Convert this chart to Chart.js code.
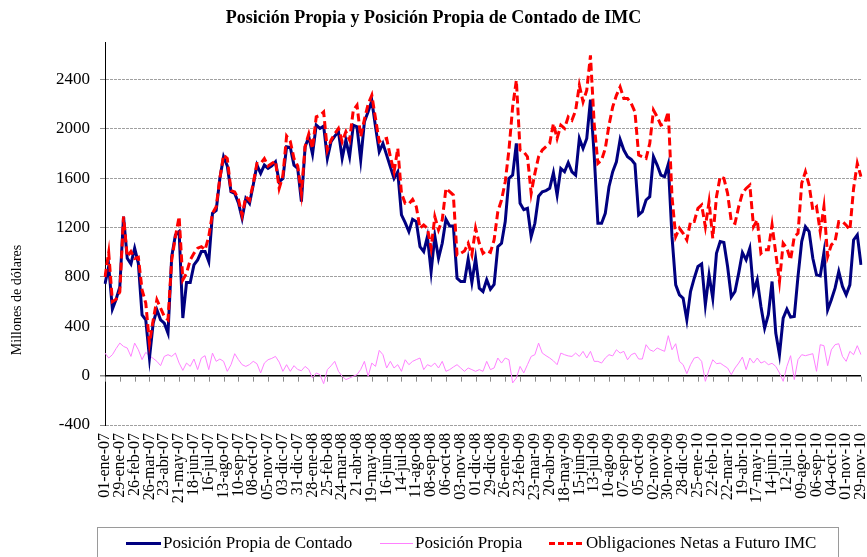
<!DOCTYPE html>
<html>
<head>
<meta charset="utf-8">
<title>Posición Propia IMC</title>
<script src="https://cdn.jsdelivr.net/npm/chart.js@4.4.0/dist/chart.umd.min.js"></script>
<style>
  html, body { margin: 0; padding: 0; background: #fff; }
  #wrap { width: 867px; height: 557px; position: relative; }
</style>
</head>
<body>
<div id="wrap"><canvas id="posChart"></canvas></div>
<script>
// Etiquetas del eje X (una cada 4 semanas)
const tickLabels = [
    '01-ene-07', '29-ene-07', '26-feb-07', '26-mar-07', '23-abr-07', '21-may-07', '18-jun-07', '16-jul-07', '13-ago-07', '10-sep-07',
    '08-oct-07', '05-nov-07', '03-dic-07', '31-dic-07', '28-ene-08', '25-feb-08', '24-mar-08', '21-abr-08', '19-may-08', '16-jun-08',
    '14-jul-08', '11-ago-08', '08-sep-08', '06-oct-08', '03-nov-08', '01-dic-08', '29-dic-08', '26-ene-09', '23-feb-09', '23-mar-09',
    '20-abr-09', '18-may-09', '15-jun-09', '13-jul-09', '10-ago-09', '07-sep-09', '05-oct-09', '02-nov-09', '30-nov-09', '28-dic-09',
    '25-ene-10', '22-feb-10', '22-mar-10', '19-abr-10', '17-may-10', '14-jun-10', '12-jul-10', '09-ago-10', '06-sep-10', '04-oct-10',
    '01-nov-10', '29-nov-10'
];

// Marcas del eje Y
const yTicks = [-400, 0, 400, 800, 1200, 1600, 2000, 2400];

// Posición Propia de Contado (millones de dólares, semanal)
const contado = [
    744, 885, 540, 620, 720, 1290, 952, 906, 1033, 911,
    493, 453, 143, 426, 534, 453, 426, 345, 965, 1140,
    1168, 467, 755, 755, 898, 938, 1006, 1006, 925, 1316,
    1340, 1600, 1775, 1700, 1491, 1478, 1400, 1276, 1437, 1397,
    1545, 1707, 1640, 1707, 1680, 1700, 1734, 1572, 1599, 1855,
    1850, 1707, 1680, 1411, 1855, 1936, 1796, 2031, 2004, 2023,
    1761, 1896, 1942, 1977, 1761, 1910, 1775, 2031, 2017, 1748,
    2058, 2139, 2228, 2017, 1815, 1883, 1788, 1694, 1599, 1653,
    1303, 1240, 1168, 1268, 1249, 1046, 1006, 1127, 844, 1133,
    952, 1073, 1268, 1214, 1214, 790, 763, 763, 944, 755,
    952, 709, 682, 777, 700, 740, 1046, 1073, 1249, 1599,
    1626, 1883, 1397, 1345, 1357, 1127, 1235, 1455, 1491, 1500,
    1518, 1645, 1464, 1680, 1653, 1726, 1653, 1626, 1923, 1842,
    1923, 2238, 1788, 1235, 1235, 1316, 1532, 1653, 1734, 1915,
    1829, 1775, 1753, 1715, 1303, 1330, 1424, 1451, 1775, 1707,
    1626, 1613, 1715, 1127, 736, 655, 628, 453, 682, 790,
    885, 906, 574, 817, 628, 992, 1087, 1079, 885, 637,
    682, 831, 998, 939, 1033, 682, 777, 561, 386, 495,
    763, 345, 170, 467, 539, 475, 480, 804, 1087, 1208,
    1168, 952, 817, 809, 998, 534, 615, 709, 844, 723,
    655, 736, 1100, 1141, 898
];

// Posición Propia
const propia = [
    183, 143, 170, 220, 264, 237, 224, 156, 264, 210,
    130, 189, 160, 140, 116, 81, 156, 170, 156, 183,
    102, 43, 102, 75, 135, 49, 143, 162, 49, 183,
    116, 135, 116, 35, 89, 178, 130, 89, 75, 90,
    116, 97, 22, 102, 129, 140, 156, 110, 35, 89,
    35, 81, 50, 40, 75, 50, -19, 22, 8, -65,
    49, 80, 116, 35, -5, -32, -19, -5, 8, 50,
    116, -5, 102, 75, 205, 170, 62, 116, 62, 89,
    35, 129, 89, 116, 130, 143, 49, 89, 75, 102,
    62, 116, 35, 49, 70, 89, 62, 35, 62, 49,
    35, 49, 35, 116, 49, 62, 143, 102, 143, 129,
    -59, -19, 75, 22, 89, 156, 170, 264, 183, 162,
    143, 120, 89, 183, 170, 160, 156, 183, 156, 197,
    143, 197, 116, 116, 102, 143, 170, 160, 210, 183,
    197, 129, 170, 183, 135, 135, 251, 210, 197, 224,
    210, 197, 324, 210, 259, 116, 89, 16, 89, 143,
    150, 116, -46, 49, 129, 97, 102, 81, 62, 8,
    62, 102, 151, 49, 143, 102, 143, 102, 116, 89,
    100, 75, 22, -46, 75, 162, -32, 130, 170, 162,
    170, 178, 35, 251, 243, 81, 210, 251, 259, 156,
    116, 197, 170, 243, 170
];

// Obligaciones Netas a Futuro IMC
const futuro = [
    800, 998, 600, 620, 680, 1290, 965, 1006, 950, 960,
    696, 588, 264, 450, 615, 547, 480, 453, 938, 1127,
    1290, 777, 830, 938, 992, 1033, 1046, 1020, 1127, 1316,
    1370, 1600, 1788, 1760, 1500, 1490, 1430, 1300, 1450, 1420,
    1560, 1720, 1720, 1760, 1700, 1720, 1740, 1518, 1620, 1942,
    1900, 1760, 1700, 1478, 1860, 1960, 1840, 2098, 2110, 2138,
    1828, 1910, 1960, 2004, 1896, 1977, 1910, 2152, 2193, 1936,
    2077, 2200, 2273, 2085, 1896, 1915, 1923, 1775, 1653, 1842,
    1478, 1397, 1392, 1429, 1370, 1195, 1222, 1195, 1033, 1289,
    1181, 1262, 1518, 1491, 1464, 979, 992, 1010, 1073, 979,
    1195, 1073, 992, 1014, 1000, 1100, 1330, 1424, 1572, 1829,
    2179, 2395, 1829, 1815, 1775, 1478, 1640, 1775, 1829, 1856,
    1883, 2044, 1923, 2031, 2004, 2098, 2071, 2150, 2355, 2220,
    2314, 2597, 2044, 1721, 1748, 1842, 2031, 2179, 2273, 2341,
    2247, 2247, 2206, 2139, 1788, 1775, 1761, 1883, 2152, 2098,
    2031, 2044, 2139, 1451, 1127, 1195, 1154, 1100, 1249, 1249,
    1357, 1384, 1208, 1410, 1114, 1451, 1613, 1599, 1478, 1249,
    1235, 1370, 1478, 1518, 1545, 1208, 1262, 992, 1020, 1020,
    1222, 992, 763, 1073, 1033, 939, 1127, 1154, 1559, 1653,
    1545, 1343, 1370, 1168, 1370, 966, 1060, 1087, 1249, 1249,
    1220, 1181, 1518, 1721, 1613
];

const serif = "'Liberation Serif', 'Times New Roman', serif";
const weeks = contado.map((_, i) => i);

// Marcas pequeñas sobre la línea del cero y título del eje Y
const zeroAxisPlugin = {
    id: 'zeroAxis',
    afterDatasetsDraw(chart) {
        const { ctx, scales: { x, y } } = chart;
        const y0 = y.getPixelForValue(0);
        ctx.save();
        ctx.strokeStyle = '#8c8c8c';
        ctx.lineWidth = 1;
        ctx.beginPath();
        for (let i = 0; i < weeks.length; i += 4) {
            const px = Math.round(x.getPixelForValue(i)) + 0.5;
            ctx.moveTo(px, y0 + 1);
            ctx.lineTo(px, y0 + 6);
        }
        ctx.stroke();

        ctx.translate(17, 300);
        ctx.rotate(-Math.PI / 2);
        ctx.fillStyle = '#000';
        ctx.font = '14px ' + serif;
        ctx.textAlign = 'center';
        ctx.textBaseline = 'middle';
        ctx.fillText('Millones de dólares', 0, 0);
        ctx.restore();
    }
};

// Leyenda con recuadro, como en el original
const legendBoxPlugin = {
    id: 'legendBox',
    afterDraw(chart) {
        const ctx = chart.ctx;
        ctx.save();
        ctx.strokeStyle = '#9a9a9a';
        ctx.lineWidth = 1;
        ctx.strokeRect(97.5, 527.5, 741, 40);

        const items = [
            { text: 'Posición Propia de Contado', color: '#000080', width: 3, dash: [], x0: 126, x1: 161 },
            { text: 'Posición Propia', color: '#ff80ff', width: 1, dash: [], x0: 380, x1: 413 },
            { text: 'Obligaciones Netas a Futuro IMC', color: '#ff0000', width: 3, dash: [6, 3], x0: 549, x1: 584 }
        ];
        const ly = 543.5;
        ctx.font = '17px ' + serif;
        ctx.textBaseline = 'middle';
        ctx.fillStyle = '#000';
        items.forEach(it => {
            ctx.beginPath();
            ctx.strokeStyle = it.color;
            ctx.lineWidth = it.width;
            ctx.setLineDash(it.dash);
            ctx.moveTo(it.x0, ly);
            ctx.lineTo(it.x1, ly);
            ctx.stroke();
            ctx.setLineDash([]);
            ctx.fillText(it.text, it.x1 + 2, ly);
        });
        ctx.restore();
    }
};

new Chart(document.getElementById('posChart'), {
    type: 'line',
    data: {
        labels: weeks,
        datasets: [
            {
                label: 'Posición Propia de Contado',
                data: contado,
                borderColor: '#000080',
                borderWidth: 3,
                order: 1
            },
            {
                label: 'Posición Propia',
                data: propia,
                borderColor: '#ff80ff',
                borderWidth: 1,
                order: 2
            },
            {
                label: 'Obligaciones Netas a Futuro IMC',
                data: futuro,
                borderColor: '#ff0000',
                borderWidth: 3,
                borderDash: [8, 4],
                order: 0
            }
        ]
    },
    options: {
        responsive: true,
        maintainAspectRatio: false,
        animation: false,
        elements: {
            point: { radius: 0 },
            line: { tension: 0, fill: false }
        },
        layout: { padding: 0 },
        plugins: {
            legend: { display: false },
            tooltip: { enabled: false },
            title: {
                display: true,
                text: 'Posición Propia y Posición Propia de Contado de IMC',
                color: '#000',
                font: { family: serif, size: 18, weight: 'bold' },
                padding: { top: 8, bottom: 13 }
            }
        },
        scales: {
            x: {
                grid: { display: false, drawTicks: false },
                border: { display: false },
                ticks: {
                    autoSkip: false,
                    minRotation: 90,
                    maxRotation: 90,
                    padding: 8,
                    color: '#000',
                    font: { family: serif, size: 16 },
                    callback: (v, i) => (i % 4 === 0 ? tickLabels[i / 4] : null)
                },
                afterFit: s => {
                    s.height = 132;
                    s.paddingLeft = 0;
                    s.paddingRight = 6;
                }
            },
            y: {
                min: -400,
                max: 2700,
                afterBuildTicks: s => {
                    s.ticks = yTicks.map(v => ({ value: v }));
                },
                ticks: {
                    padding: 10,
                    color: '#000',
                    font: { family: serif, size: 17 },
                    callback: v => String(v)
                },
                grid: {
                    color: c => (c.tick && c.tick.value === 0 ? '#000' : '#a0a0a0'),
                    lineWidth: c => (c.tick && c.tick.value === 0 ? 1.5 : 1),
                    tickColor: '#8c8c8c',
                    tickLength: 5
                },
                border: {
                    color: '#000',
                    width: 1,
                    dash: c => (c.tick && c.tick.value === 0 ? [] : [3, 1])
                },
                afterFit: s => {
                    s.width = 105;
                    s.paddingTop = 0;
                    s.paddingBottom = 0;
                }
            }
        }
    },
    plugins: [zeroAxisPlugin, legendBoxPlugin]
});
</script>
</body>
</html>
